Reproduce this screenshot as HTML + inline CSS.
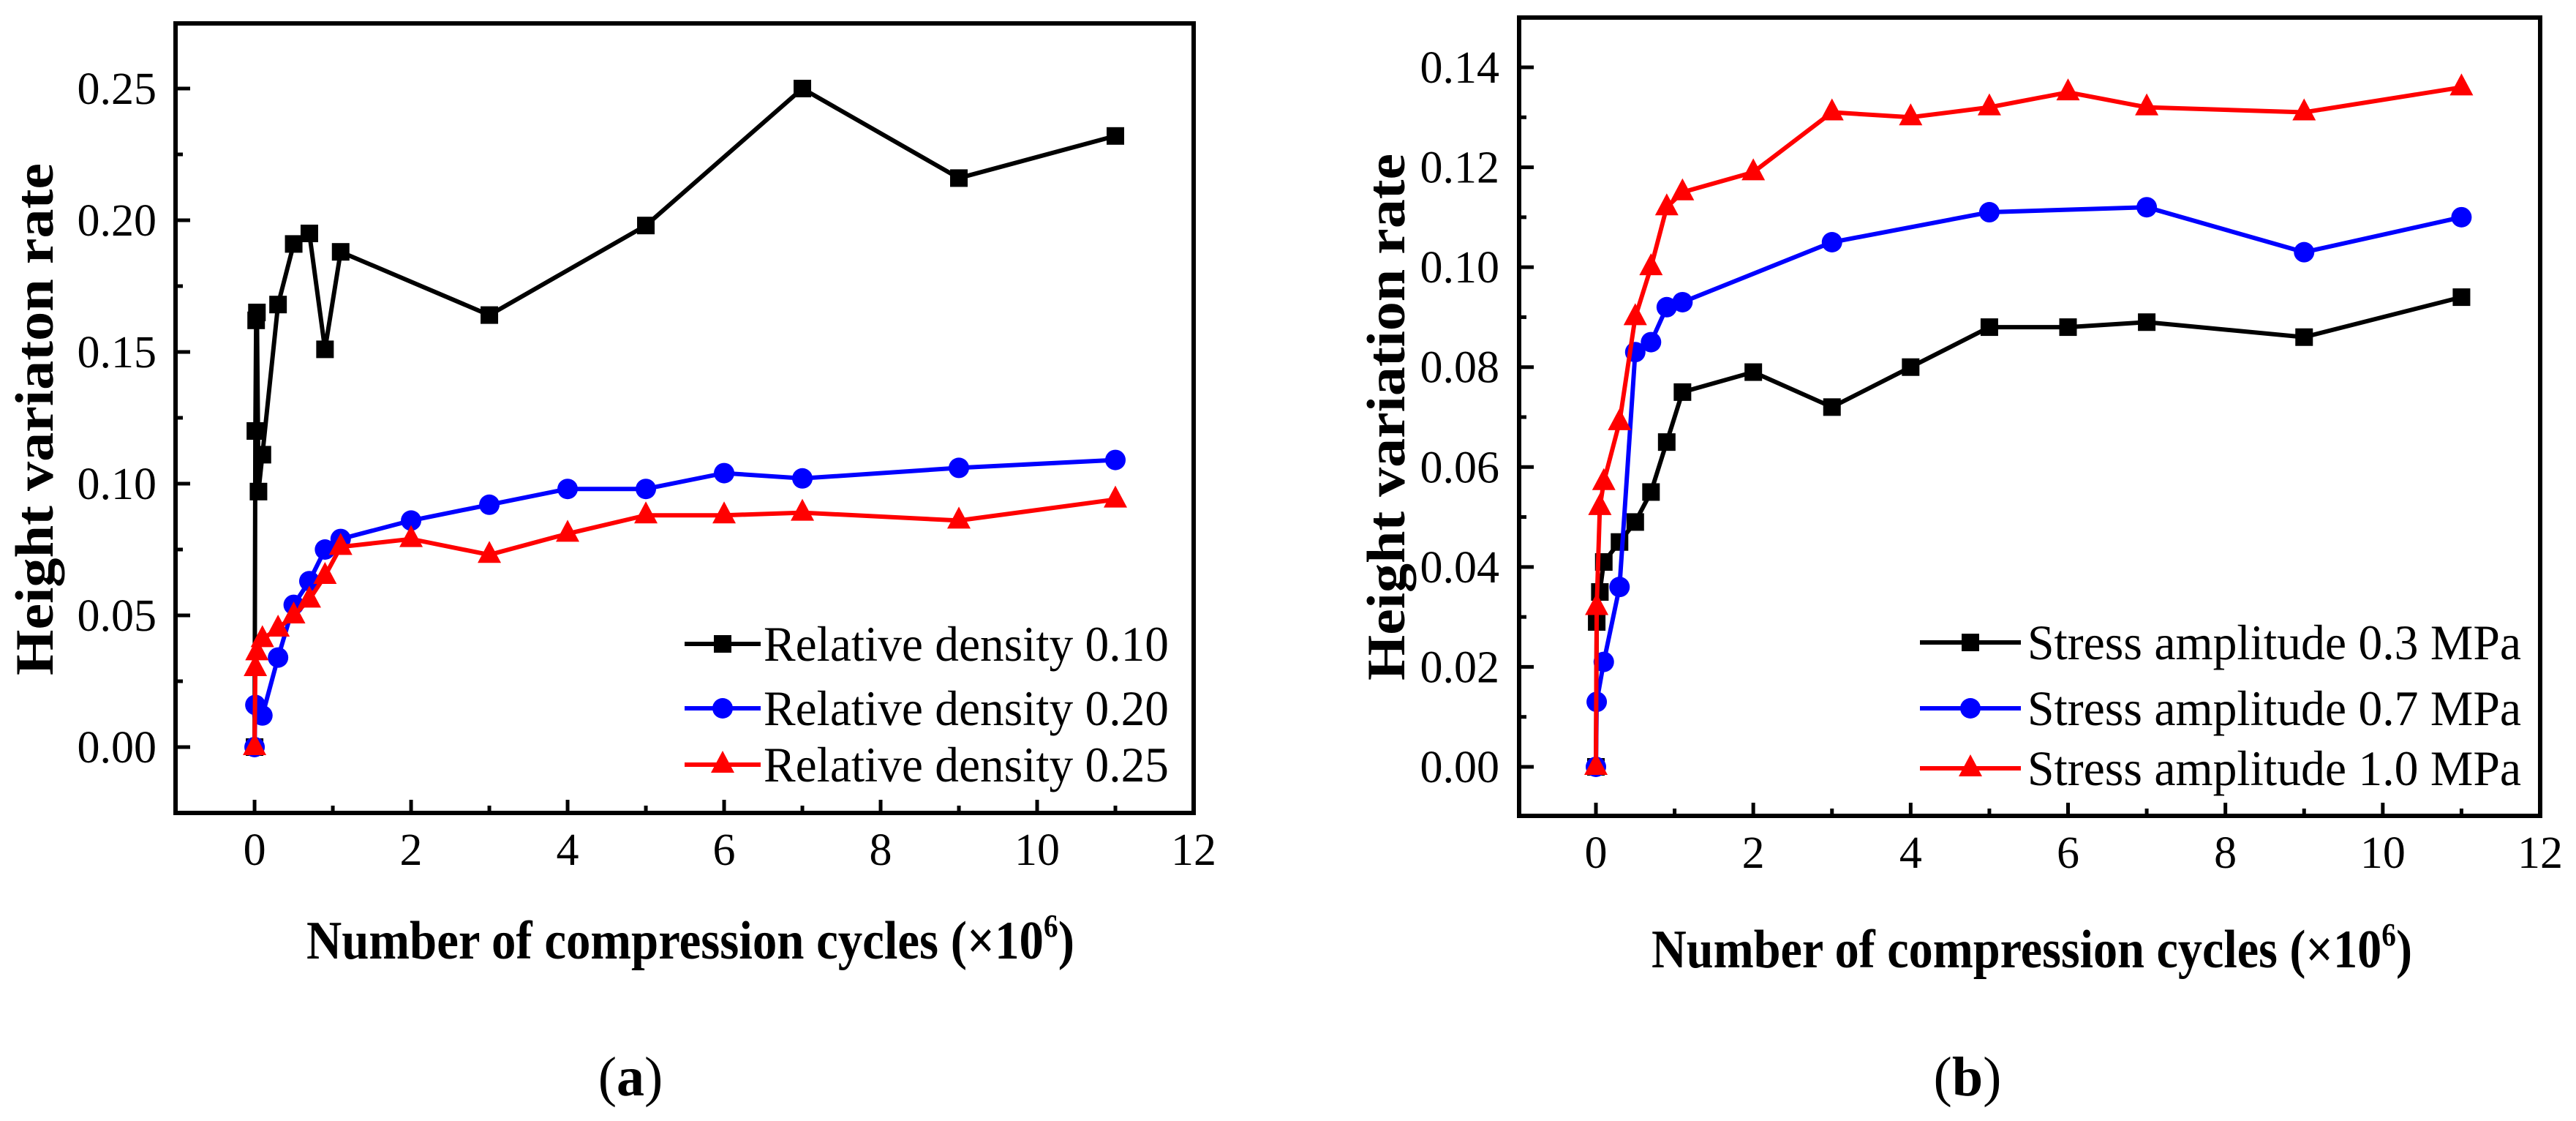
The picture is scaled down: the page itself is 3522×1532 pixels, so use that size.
<!DOCTYPE html>
<html><head><meta charset="utf-8"><style>
html,body{margin:0;padding:0;background:#fff}
svg{display:block}
text{font-family:"Liberation Serif",serif;fill:#000}
</style></head><body>
<svg id="fig" width="3522" height="1532" viewBox="0 0 3522 1532" xmlns="http://www.w3.org/2000/svg"></svg>
<script>
// ---- Chart (a) data ----
const aBlackX = [0, 0.01, 0.02, 0.03, 0.05, 0.1, 0.3, 0.5, 0.7, 0.9, 1.1, 3, 5, 7, 9, 11];
const aBlackY = [0, 0.120, 0.162, 0.165, 0.097, 0.111, 0.168, 0.191, 0.195, 0.151, 0.188, 0.164, 0.198, 0.250, 0.216, 0.232];
const aBlueX = [0, 0.01, 0.1, 0.3, 0.5, 0.7, 0.9, 1.1, 2, 3, 4, 5, 6, 7, 9, 11];
const aBlueY = [0, 0.016, 0.012, 0.034, 0.054, 0.063, 0.075, 0.079, 0.086, 0.092, 0.098, 0.098, 0.104, 0.102, 0.106, 0.109];
const aRedX = [0, 0.01, 0.03, 0.1, 0.3, 0.5, 0.7, 0.9, 1.1, 2, 3, 4, 5, 6, 7, 9, 11];
const aRedY = [0, 0.030, 0.036, 0.041, 0.045, 0.050, 0.056, 0.065, 0.076, 0.079, 0.073, 0.081, 0.088, 0.088, 0.089, 0.086, 0.094];
const aYTicks = ["0.00", "0.05", "0.10", "0.15", "0.20", "0.25"];
const aLegend = ["Relative density 0.10", "Relative density 0.20", "Relative density 0.25"];
// ---- Chart (b) data ----
const bBlackX = [0, 0.01, 0.05, 0.1, 0.3, 0.5, 0.7, 0.9, 1.1, 2, 3, 4, 5, 6, 7, 9, 11];
const bBlackY = [0, 0.029, 0.035, 0.041, 0.045, 0.049, 0.055, 0.065, 0.075, 0.079, 0.072, 0.080, 0.088, 0.088, 0.089, 0.086, 0.094];
const bBlueX = [0, 0.01, 0.1, 0.3, 0.5, 0.7, 0.9, 1.1, 3, 5, 7, 9, 11];
const bBlueY = [0, 0.013, 0.021, 0.036, 0.083, 0.085, 0.092, 0.093, 0.105, 0.111, 0.112, 0.103, 0.110];
const bRedX = [0, 0.01, 0.05, 0.1, 0.3, 0.5, 0.7, 0.9, 1.1, 2, 3, 4, 5, 6, 7, 9, 11];
const bRedY = [0, 0.032, 0.052, 0.057, 0.069, 0.090, 0.100, 0.112, 0.115, 0.119, 0.131, 0.130, 0.132, 0.135, 0.132, 0.131, 0.136];
const bYTicks = ["0.00", "0.02", "0.04", "0.06", "0.08", "0.10", "0.12", "0.14"];
const bLegend = ["Stress amplitude 0.3 MPa", "Stress amplitude 0.7 MPa", "Stress amplitude 1.0 MPa"];
const xTicks = ["0", "2", "4", "6", "8", "10", "12"];

const NS = "http://www.w3.org/2000/svg";
const svg = document.getElementById("fig");
function mk(tag, attrs, parent) {
  const e = document.createElementNS(NS, tag);
  for (const k in attrs) e.setAttribute(k, attrs[k]);
  (parent || svg).appendChild(e);
  return e;
}
function marker(g, type, cx, cy, color) {
  let m;
  if (type === "square") m = mk("rect", {x: cx - 12, y: cy - 12, width: 24, height: 24, fill: color}, g);
  else if (type === "circle") m = mk("circle", {cx: cx, cy: cy, r: 14, fill: color}, g);
  else m = mk("polygon", {points: `${cx},${cy - 19} ${cx - 16},${cy + 11} ${cx + 16},${cy + 11}`, fill: color}, g);
  
  
}
function chart(c) {
  const g = mk("g", {});
  
  
  const X = v => c.L + (v - c.xmin) / (c.xmax - c.xmin) * (c.R - c.L);
  const Y = v => c.y0 - v / c.ymaxTick * (c.y0 - c.yTopTick);
  const fr = mk("rect", {x: c.L, y: c.T, width: c.R - c.L, height: c.B - c.T, fill: "none", stroke: "#000", "stroke-width": 6}, g);
  
  
  const nY = c.yTicks.length;
  const step = c.ymaxTick / (nY - 1);
  for (let i = 0; i < nY; i++) {
    const v = step * i;
    const y = Y(v);
    mk("line", {x1: c.L, x2: c.L + 20, y1: y, y2: y, stroke: "#000", "stroke-width": 5}, g);
    const t = mk("text", {x: c.labR, y: y + 21, "font-size": 62, "text-anchor": "end"}, g);
    t.textContent = c.yTicks[i];
    
    
    const ym = Y(v + step / 2);
    if (ym > c.T + 5) mk("line", {x1: c.L, x2: c.L + 10, y1: ym, y2: ym, stroke: "#000", "stroke-width": 5}, g);
  }
  { const ym = Y(-step / 2); if (ym < c.B - 5) mk("line", {x1: c.L, x2: c.L + 10, y1: ym, y2: ym, stroke: "#000", "stroke-width": 5}, g); }
  for (let i = 0; i < xTicks.length; i++) {
    const v = +xTicks[i];
    const x = X(v);
    mk("line", {x1: x, x2: x, y1: c.B, y2: c.B - 18, stroke: "#000", "stroke-width": 5}, g);
    if (v + 1 < c.xmax) mk("line", {x1: X(v + 1), x2: X(v + 1), y1: c.B, y2: c.B - 10, stroke: "#000", "stroke-width": 5}, g);
    const t = mk("text", {x: x, y: c.xlabY, "font-size": 62, "text-anchor": "middle"}, g);
    t.textContent = xTicks[i];
    
    
  }
  const cols = ["#000", "#0000ff", "#ff0000"], types = ["square", "circle", "triangle"];
  c.series.forEach((s, si) => {
    const sg = mk("g", {}, g);
    
    
    const pts = s[0].map((xv, k) => X(xv) + "," + Y(s[1][k])).join(" ");
    mk("polyline", {points: pts, fill: "none", stroke: cols[si], "stroke-width": 6, "stroke-linejoin": "miter"}, sg);
    s[0].forEach((xv, k) => marker(sg, types[si], X(xv), Y(s[1][k]), cols[si]));
  });
  c.legend.forEach((txt, i) => {
    const lg = mk("g", {}, g);
    
    
    const y = c.legY[i];
    mk("line", {x1: c.legX1, x2: c.legX2, y1: y, y2: y, stroke: cols[i], "stroke-width": 6}, lg);
    marker(lg, types[i], (c.legX1 + c.legX2) / 2, y, cols[i]);
    const t = mk("text", {x: c.legTextL, y: y + 23, "font-size": 68, textLength: c.legTextR - c.legTextL, lengthAdjust: "spacingAndGlyphs"}, lg);
    t.textContent = txt;
  });
  const xt = mk("text", {x: c.xtX, y: c.xtY, "font-size": 74, "font-weight": "bold", "text-anchor": "middle", textLength: c.xtLen, lengthAdjust: "spacingAndGlyphs"}, g);
  xt.innerHTML = 'Number of compression cycles (×10<tspan dy="-30" font-size="44">6</tspan><tspan dy="30">)</tspan>';
  
  
  const yt = mk("text", {x: 0, y: 0, "font-size": 74, "font-weight": "bold", "text-anchor": "middle", transform: `translate(${c.ytX},${c.ytY}) rotate(-90)`, textLength: c.ytLen, lengthAdjust: "spacingAndGlyphs"}, g);
  yt.textContent = c.ytitle;
  
  
  const pl = mk("text", {x: c.plX, y: 1497, "font-size": 76, "text-anchor": "middle"}, g);
  pl.innerHTML = '(<tspan font-weight="bold">' + c.panel + '</tspan>)';
  
  
}
chart({name: "chart-a", L: 240, R: 1632, T: 32, B: 1111, xmin: -1.01, xmax: 12, y0: 1021, yTopTick: 121, ymaxTick: 0.25,
  yTicks: aYTicks, labR: 214, xlabY: 1182,
  series: [[aBlackX, aBlackY], [aBlueX, aBlueY], [aRedX, aRedY]],
  legend: aLegend, legY: [880, 968, 1045], legX1: 936, legX2: 1040, legTextL: 1044, legTextR: 1598,
  xtX: 944, xtY: 1310, xtLen: 1050, ytX: 72, ytY: 573, ytLen: 700, ytitle: "Height variaton rate", panel: "a", plX: 862});
chart({name: "chart-b", L: 2077, R: 3473, T: 24, B: 1115, xmin: -0.976, xmax: 12, y0: 1048, yTopTick: 92, ymaxTick: 0.14,
  yTicks: bYTicks, labR: 2050, xlabY: 1186,
  series: [[bBlackX, bBlackY], [bBlueX, bBlueY], [bRedX, bRedY]],
  legend: bLegend, legY: [878, 968, 1050], legX1: 2625, legX2: 2763, legTextL: 2772, legTextR: 3447,
  xtX: 2778, xtY: 1322, xtLen: 1040, ytX: 1920, ytY: 570, ytLen: 720, ytitle: "Height variation rate", panel: "b", plX: 2690});
</script>
</body></html>
